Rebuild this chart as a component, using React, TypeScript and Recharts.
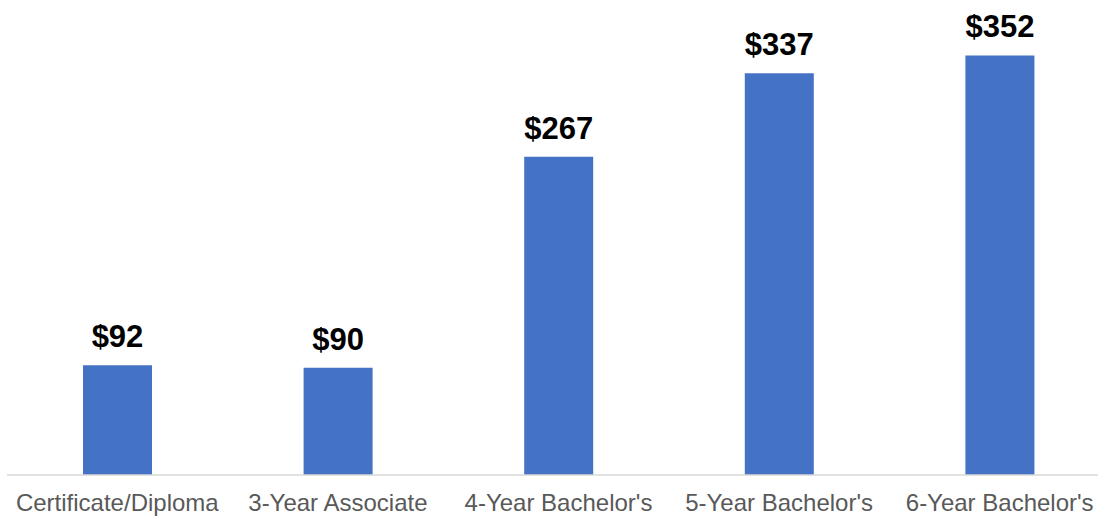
import { BarChart, Bar, XAxis, YAxis, LabelList } from "recharts";

const CATEGORIES = [
  "Certificate/Diploma",
  "3-Year Associate",
  "4-Year Bachelor's",
  "5-Year Bachelor's",
  "6-Year Bachelor's",
];
const VALUES = [92, 90, 267, 337, 352];

const data = CATEGORIES.map((name, i) => ({ name, value: VALUES[i] }));

export default function App() {
  return (
    <div
      style={{
        position: "absolute",
        left: 0,
        top: 0,
        width: 1098,
        height: 517,
        overflow: "hidden",
        background: "#fff",
      }}
    >
      <BarChart
        width={1110}
        height={517}
        data={data}
        margin={{ top: 22, right: 0, left: 7, bottom: 0 }}
        barSize={69}
      >
        <XAxis
          dataKey="name"
          height={42}
          axisLine={{ stroke: "#d9d9d9", strokeWidth: 1.5 }}
          tickLine={false}
          tickMargin={13}
          interval={0}
          tick={{ fill: "#595959", fontSize: 24, fontFamily: "Liberation Sans, Arial, sans-serif" }}
        />
        <YAxis hide domain={[0, 380]} />
        <Bar dataKey="value" fill="#4472c4" isAnimationActive={false}>
          <LabelList
            dataKey="value"
            position="top"
            offset={18}
            formatter={(v: number) => `$${v}`}
            style={{
              fill: "#000",
              fontSize: 31,
              fontWeight: "bold",
              fontFamily: "Liberation Sans, Arial, sans-serif",
            }}
          />
        </Bar>
      </BarChart>
    </div>
  );
}
